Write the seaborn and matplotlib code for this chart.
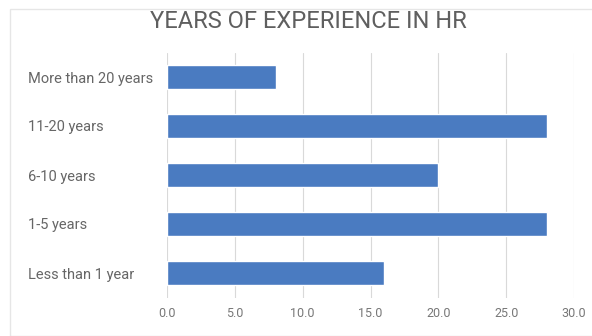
import matplotlib
matplotlib.use("Agg")
import matplotlib.pyplot as plt
import seaborn as sns
import pandas as pd
from matplotlib.patches import Rectangle

categories = ["More than 20 years", "11-20 years", "6-10 years", "1-5 years", "Less than 1 year"]
values = [8, 28, 20, 28, 16]
xticks = [0, 5, 10, 15, 20, 25, 30]
title = "YEARS OF EXPERIENCE IN HR"

sns.set_theme(style="white")
plt.rcParams['font.family'] = ['Roboto', 'DejaVu Sans']

df = pd.DataFrame({"cat": categories, "val": values})

fig = plt.figure(figsize=(5.92, 3.36), dpi=100)
ax = fig.add_axes([167/592, 38.5/336, (574-167)/592, 245/336])

sns.barplot(data=df, y="cat", x="val", orient="h", color="#4a7bc1",
            saturation=1, width=0.48, ax=ax, zorder=3)

ax.set_xlim(0, 30)
ax.set_ylim(4.5, -0.5)
ax.set_xticks(xticks)
ax.set_xticklabels([f"{t:.1f}" for t in xticks])
ax.set_xlabel("")
ax.set_ylabel("")
for s in ax.spines.values():
    s.set_visible(False)
ax.grid(axis="x", color="#d9d9d9", linewidth=0.8, zorder=0)
ax.grid(axis="y", visible=False)
ax.tick_params(axis="x", length=0, pad=7, labelsize=9, labelcolor="#777777")
ax.tick_params(axis="y", length=0, pad=(167 - 28) * 0.72, labelsize=10.5, labelcolor="#666666")
for lbl in ax.get_yticklabels():
    lbl.set_horizontalalignment("left")

fig.text(308/592, 1 - 21/336, title, ha="center", va="center",
         fontsize=17, color="#5f5f5f")

fig.patches.append(Rectangle((10/592, 0), 1, 1 - 9/336, transform=fig.transFigure,
                             fill=False, edgecolor="#e6e6e6", linewidth=1))

fig.savefig("out.png", dpi=100)
